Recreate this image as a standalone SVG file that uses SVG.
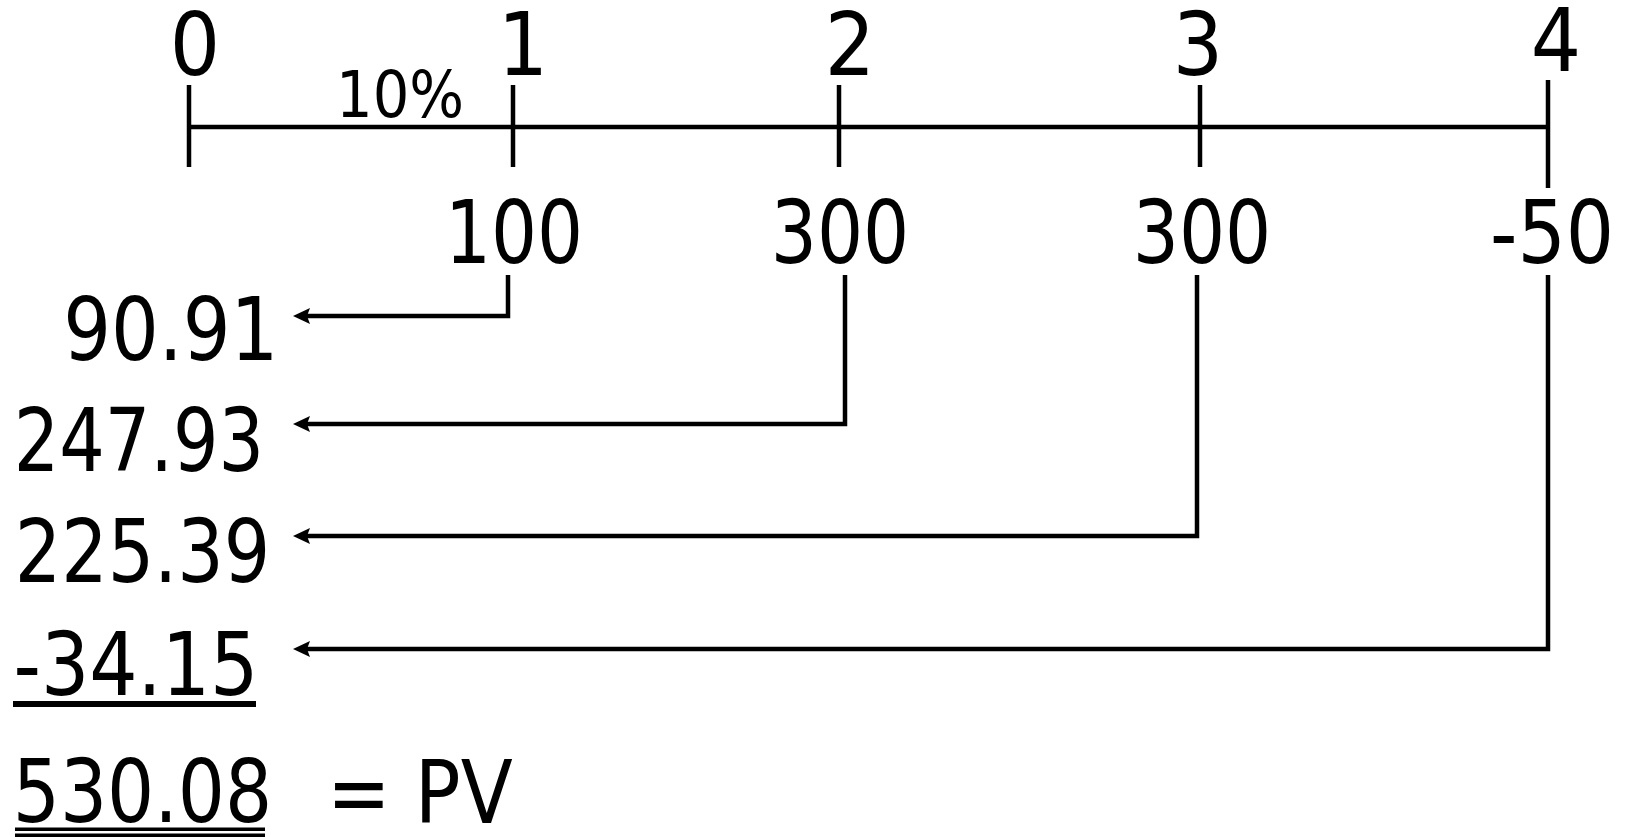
<svg xmlns="http://www.w3.org/2000/svg" width="1627" height="837" viewBox="0 0 1627 837">
<style>
.t{font-family:'DejaVu Sans Condensed','DejaVu Sans',sans-serif;font-stretch:condensed;font-size:88px;fill:#000}
.s{font-size:64px}
.m{text-anchor:middle}
.ln{stroke:#000;stroke-width:4.5;fill:none;stroke-linejoin:miter}
.cn{stroke:#000;stroke-width:4.5;fill:none;marker-end:url(#ah)}
</style>
<defs>
<marker id="ah" markerUnits="userSpaceOnUse" viewBox="0 -9 18 18" markerWidth="18" markerHeight="18" refX="7" refY="0" orient="auto" overflow="visible">
<path d="M17,0 L0,-8 L3,0 L0,8 Z" fill="#000"/>
</marker>
</defs>
<rect width="1627" height="837" fill="#fff"/>
<g id="timeline">
<line class="ln" x1="189" y1="127" x2="1548" y2="127"/>
<line class="ln" x1="189" y1="85" x2="189" y2="167"/>
<line class="ln" x1="513" y1="85" x2="513" y2="167"/>
<line class="ln" x1="839" y1="85" x2="839" y2="167"/>
<line class="ln" x1="1200" y1="85" x2="1200" y2="167"/>
<line class="ln" x1="1548" y1="80" x2="1548" y2="188"/>
</g>
<g id="period-0"><text class="t m" x="195" y="75">0</text></g>
<g id="period-1"><text class="t m" x="523" y="75">1</text></g>
<g id="period-2"><text class="t m" x="850" y="75">2</text></g>
<g id="period-3"><text class="t m" x="1198" y="75">3</text></g>
<g id="period-4"><text class="t m" x="1556" y="71">4</text></g>
<g id="rate"><text class="t s m" x="400" y="117">10%</text></g>
<g id="cf-1"><text class="t m" transform="translate(514 263) scale(0.914 1)">100</text></g>
<g id="cf-2"><text class="t m" transform="translate(840 263) scale(0.917 1)">300</text></g>
<g id="cf-3"><text class="t m" transform="translate(1202 263) scale(0.917 1)">300</text></g>
<g id="cf-4"><text class="t m" transform="translate(1552 263) scale(0.96 1)">-50</text></g>
<g id="pv-1"><text class="t" transform="translate(63.3 360) scale(0.949 1)">90.91</text></g>
<g id="pv-2"><text class="t" transform="translate(13.7 471) scale(0.904 1)">247.93</text></g>
<g id="pv-3"><text class="t" transform="translate(14.7 582) scale(0.923 1)">225.39</text></g>
<g id="pv-4"><text class="t" transform="translate(13.5 695) scale(0.96 1)">-34.15</text><rect x="13" y="701" width="243" height="6" fill="#000"/></g>
<g id="pv-total"><text class="t" transform="translate(12.7 822) scale(0.937 1)">530.08</text><rect x="15" y="827.5" width="250" height="3.5" fill="#000"/><rect x="15" y="833.5" width="250" height="3.5" fill="#000"/></g>
<g id="pv-label"><text class="t" transform="translate(327 823) scale(0.96 1)">= PV</text></g>
<g id="connectors">
<polyline class="cn" points="508,275 508,316 303,316"/>
<polyline class="cn" points="845,275 845,424 303,424"/>
<polyline class="cn" points="1197,275 1197,536 303,536"/>
<polyline class="cn" points="1548,275 1548,649 303,649"/>
</g>
</svg>
